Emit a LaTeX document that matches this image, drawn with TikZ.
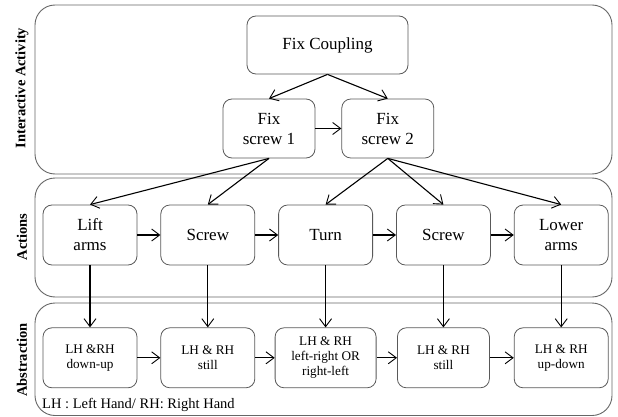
\documentclass[tikz,border=0pt]{standalone}
\usepackage{fontspec}
\setmainfont{Liberation Serif}
\usetikzlibrary{arrows.meta,positioning}
\tikzset{
    flow panel/.style={draw=black!60, line width=0.9pt, rounded corners=20pt},
    flow side/.style={rotate=90, font=\bfseries\fontsize{14.5}{17}\selectfont},
    flow box/.style={
        draw=black!65,
        line width=0.8pt,
        rounded corners=9pt,
        minimum width=94pt,
        minimum height=60pt,
        align=center,
        inner sep=2pt,
        font=\fontsize{17}{20}\selectfont
    },
    flow abs/.style={flow box, font=\fontsize{13.2}{15}\selectfont},
    flow note/.style={font=\fontsize{14.5}{17}\selectfont, anchor=west, inner sep=0pt},
    flow arrow/.style={-{Straight Barb[length=8pt,width=12pt,line width=0.9pt]}, line width=1.1pt}
}
\begin{document}
\begin{tikzpicture}[x=1pt, y=-1pt]
\useasboundingbox (0,0) rectangle (618,417);
% Panels
\draw[flow panel] (35,5) rectangle (612,174);
\draw[flow panel] (35,178) rectangle (612,297);
\draw[flow panel] (35,303) rectangle (612,415.5);
\node[flow side] (side1) at (22,88) {Interactive Activity};
\node[flow side] (side2) at (22,237) {Actions};
\node[flow side] (side3) at (22,360) {Abstraction};

% Interactive activity
\node[flow box, minimum width=161pt, minimum height=58pt] (coupling) at (327.5,45) {Fix Coupling};
\node[flow box, minimum width=92pt, minimum height=59pt] (fix1) at (269,128.5) {Fix\\screw 1};
\node[flow box, minimum width=92pt, minimum height=59pt, right=26pt of fix1] (fix2) {Fix\\screw 2};
\draw[flow arrow] (coupling.south) -- (fix1.north);
\draw[flow arrow] (coupling.south) -- (fix2.north);
\draw[flow arrow] (fix1) -- (fix2);

% Actions
\node[flow box] (lift) at (90,235) {Lift\\arms};
\node[flow box, right=23pt of lift] (screwa) {Screw};
\node[flow box, right=23pt of screwa] (turn) {Turn};
\node[flow box, right=23pt of turn] (screwb) {Screw};
\node[flow box, right=23pt of screwb] (lower) {Lower\\arms};
\draw[flow arrow] (fix1.south) -- (lift.north);
\draw[flow arrow] (fix1.south) -- (screwa.north);
\draw[flow arrow] (fix2.south) -- (turn.north);
\draw[flow arrow] (fix2.south) -- (screwb.north);
\draw[flow arrow] (fix2.south) -- (lower.north);
\draw[flow arrow] (lift) -- (screwa);
\draw[flow arrow] (screwa) -- (turn);
\draw[flow arrow] (turn) -- (screwb);
\draw[flow arrow] (screwb) -- (lower);

% Abstraction
\node[flow abs, below=62pt of lift] (downup) {LH \&RH\\down-up};
\node[flow abs, below=62pt of screwa] (stilla) {LH \& RH\\still};
\node[flow abs, below=62pt of turn, minimum width=101pt] (leftright) {LH \& RH\\left-right OR\\right-left};
\node[flow abs, below=62pt of screwb, minimum width=92pt] (stillb) {LH \& RH\\still};
\node[flow abs, below=62pt of lower] (updown) {LH \& RH\\up-down};
\foreach \a/\b in {lift/downup, screwa/stilla, turn/leftright, screwb/stillb, lower/updown}
    \draw[flow arrow] (\a) -- (\b);
\draw[flow arrow] (downup) -- (stilla);
\draw[flow arrow] (stilla) -- (leftright);
\draw[flow arrow] (leftright) -- (stillb);
\draw[flow arrow] (stillb) -- (updown);
\node[flow note] (legend) at (42,405) {LH : Left Hand/ RH: Right Hand};
\end{tikzpicture}
\end{document}
